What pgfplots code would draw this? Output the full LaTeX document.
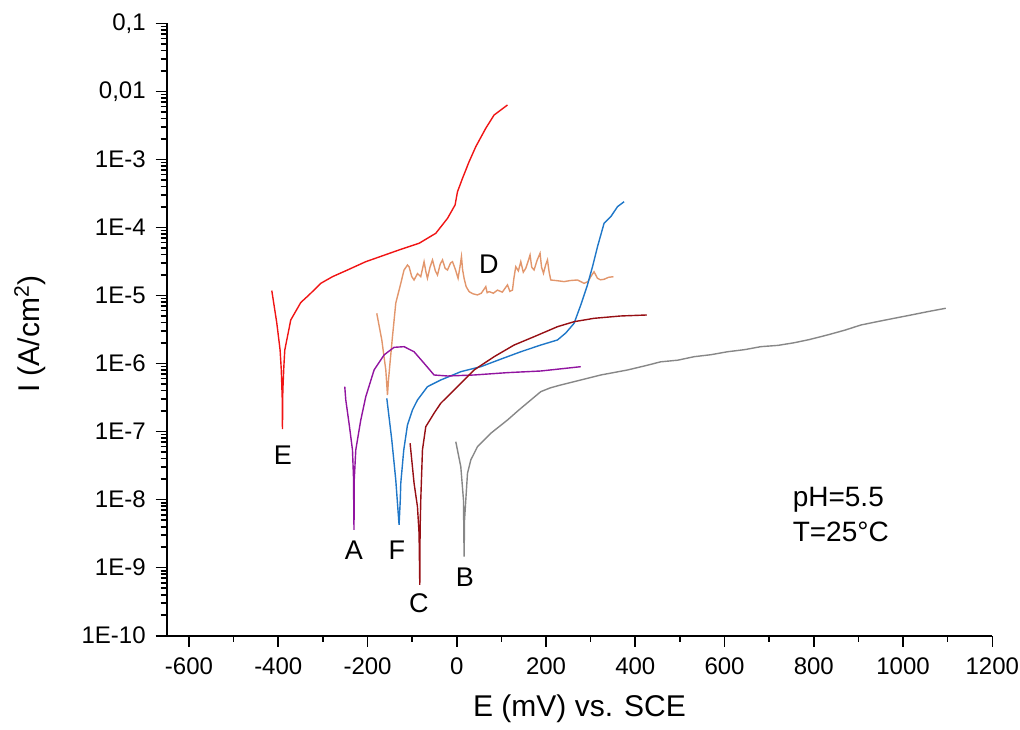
\documentclass[border=0pt]{standalone}
\usepackage{pgfplots}
\pgfplotsset{compat=1.18}
\usepackage{fontspec}
\setmainfont{Liberation Sans}
\definecolor{cE}{RGB}{240,20,20}
\definecolor{cD}{RGB}{226,150,108}
\definecolor{cF}{RGB}{31,119,200}
\definecolor{cA}{RGB}{145,20,160}
\definecolor{cC}{RGB}{150,15,20}
\definecolor{cB}{RGB}{135,135,135}

\begin{document}
\begin{tikzpicture}
\useasboundingbox (-83.35pt,-46.65pt) rectangle (426.65pt,317.85pt);
\begin{axis}[
  at={(0,0)}, anchor=south west,
  scale only axis, width=412.8pt, height=306.2pt,
  ymode=log,
  xmin=-650, xmax=1200, ymin=1e-10, ymax=0.1,
  axis x line*=bottom, axis y line*=left,
  axis line style={line width=0.9pt},
  xtick={-600,-400,...,1200}, minor x tick num=1,
  ytick={1e-10,1e-9,1e-8,1e-7,1e-6,1e-5,1e-4,1e-3,1e-2,1e-1},
  yticklabels={1E-10,1E-9,1E-8,1E-7,1E-6,1E-5,1E-4,1E-3,{0,01},{0,1}},
  tick align=outside,
  major tick length=5.5pt, minor tick length=3pt,
  tick style={black, line width=0.8pt},
  tick label style={font=\fontsize{12}{14}\selectfont},
  yticklabel style={xshift=-1.5pt},
  xticklabel shift={2pt},
  /pgf/number format/assume math mode=true,
  /pgf/number format/set thousands separator={},
  xlabel={E (mV) vs. SCE},
  ylabel={I (A/cm\textsuperscript{2})},
  label style={font=\fontsize{15}{18}\selectfont},
  xlabel style={at={(axis description cs:0.5,-0.119)}, anchor=center},
  ylabel style={at={(axis description cs:-0.1656,0.4927)}, anchor=center},
  every axis plot/.append style={line width=0.7pt},
  clip=false,
]
% E
\addplot[cE] coordinates {(-414.5,1.18e-5)(-403.3,3.94e-6)(-395.9,1.58e-6)(-393.2,8.0e-7)(-391,2.9e-7)(-390.6,1.09e-7)(-389.8,4.0e-7)(-388.2,7.0e-7)(-387.5,9.0e-7)(-385.4,1.58e-6)(-372,4.37e-6)(-349.5,7.9e-6)(-331,1.02e-5)(-304.7,1.51e-5)(-278.5,1.89e-5)(-244.9,2.37e-5)(-203.9,3.14e-5)(-129.3,4.67e-5)(-84.5,5.85e-5)(-47.1,8.2e-5)(-20.8,1.36e-4)(-3.8,2.14e-4)(1.6,3.35e-4)(12.8,5.27e-4)(27.6,9.25e-4)(42.6,1.54e-3)(65,2.87e-3)(83.6,4.49e-3)(113.6,6.3e-3)};
% D
\addplot[cD] coordinates {(-179.3,5.47e-6)(-168,2.22e-6)(-159,8.0e-7)(-155.3,3.45e-7)(-153,5.73e-7)(-149,1.13e-6)(-144.1,2.48e-6)(-136.7,7.7e-6)(-125.5,1.51e-5)(-118.1,2.37e-5)(-110.5,2.81e-5)(-106.9,2.65e-5)(-101,1.9e-5)(-95.7,1.69e-5)(-88,2.1e-5)(-80.7,1.89e-5)(-73.3,3.14e-5)(-69,2.2e-5)(-65.7,1.79e-5)(-60,2.6e-5)(-54.4,3.33e-5)(-48,2.3e-5)(-43.2,2.0e-5)(-37,2.9e-5)(-32,3.33e-5)(-26,2.5e-5)(-20.8,2.37e-5)(-14,3.0e-5)(-9.6,3.14e-5)(-3,2.4e-5)(2.9,1.79e-5)(7,2.6e-5)(10.5,3.72e-5)(13,2.4e-5)(16.4,1.79e-5)(21,1.35e-5)(27.6,1.14e-5)(36,1.06e-5)(46.4,1.02e-5)(55,1.08e-5)(65,1.35e-5)(68,1.1e-5)(72.4,1.14e-5)(82,1.08e-5)(91.2,1.20e-5)(102,1.12e-5)(113.6,1.43e-5)(119,1.15e-5)(124.8,1.20e-5)(128,1.8e-5)(132.2,2.65e-5)(138,2.3e-5)(143.4,3.14e-5)(149,2.2e-5)(154.6,2.51e-5)(160,3.2e-5)(164.2,3.94e-5)(168,2.6e-5)(173.2,2.37e-5)(180,3.3e-5)(186.6,4.17e-5)(190,2.6e-5)(194.3,2.12e-5)(199,2.8e-5)(203.2,3.33e-5)(207,2.2e-5)(210.6,1.69e-5)(225,1.65e-5)(240.4,1.60e-5)(255,1.66e-5)(270.4,1.69e-5)(285.2,1.51e-5)(294,1.6e-5)(300.2,1.89e-5)(307.6,2.23e-5)(315.3,1.79e-5)(322,1.7e-5)(330,1.73e-5)(340,1.85e-5)(351.1,1.89e-5)};
% F
\addplot[cF] coordinates {(-156.8,3.08e-7)(-145.6,7.5e-8)(-136.7,1.94e-8)(-129.3,4.25e-9)(-126.6,9.9e-9)(-125.5,1.74e-8)(-118.8,5.37e-8)(-110.5,1.25e-7)(-99.3,2.08e-7)(-88.1,2.91e-7)(-65.7,4.57e-7)(-35.9,5.73e-7)(9,7.59e-7)(53.8,8.99e-7)(98.6,1.16e-6)(143.4,1.49e-6)(188.2,1.87e-6)(225.6,2.22e-6)(244.2,2.81e-6)(262.8,3.90e-6)(277.8,7.24e-6)(292.8,1.43e-5)(304.1,2.65e-5)(315.3,5.21e-5)(330,1.15e-4)(345.1,1.44e-4)(360.1,2.02e-4)(374.9,2.39e-4)};
% A
\addplot[cA] coordinates {(-251,4.57e-7)(-248.7,2.91e-7)(-240.9,1.25e-7)(-233.7,5.37e-8)(-231.5,2.17e-8)(-230.3,3.58e-9)(-229.8,1.94e-8)(-226.3,5.37e-8)(-215.1,1.48e-7)(-203.9,3.26e-7)(-185.3,8.04e-7)(-162.9,1.34e-6)(-140.5,1.73e-6)(-118.1,1.77e-6)(-95.7,1.49e-6)(-73.3,1.01e-6)(-50.9,6.79e-7)(-20.8,6.56e-7)(38.8,6.79e-7)(113.6,7.35e-7)(188.2,7.77e-7)(277.8,8.99e-7)};
% C
\addplot[cC] coordinates {(-104.6,6.73e-8)(-95.7,1.74e-8)(-88.1,7.87e-9)(-84.5,3.20e-9)(-82.9,5.57e-10)(-82.2,3.58e-9)(-80.7,9.88e-9)(-76.9,5.37e-8)(-69.5,1.18e-7)(-50.9,1.86e-7)(-35.9,2.61e-7)(-6,4.09e-7)(38.8,8.04e-7)(83.6,1.26e-6)(128.4,1.87e-6)(173.2,2.48e-6)(225.6,3.48e-6)(262.8,4.12e-6)(307.6,4.62e-6)(367.5,5.0e-6)(425.7,5.17e-6)};
% B
\addplot[cB] coordinates {(-2.2,7.1e-8)(9,3.05e-8)(15,9.9e-9)(16.4,1.45e-9)(17.4,5.02e-9)(20.2,9.9e-9)(24,2.44e-8)(31.4,3.83e-8)(46.4,6.0e-8)(76.2,9.44e-8)(113.6,1.48e-7)(140,2.1e-7)(165.8,2.91e-7)(188.2,3.86e-7)(210,4.4e-7)(233,4.84e-7)(277.8,5.73e-7)(322.7,6.79e-7)(382.5,8.04e-7)(420,9.2e-7)(457.1,1.06e-6)(495,1.12e-6)(531.7,1.26e-6)(570,1.35e-6)(606.5,1.49e-6)(645,1.6e-6)(681.2,1.77e-6)(720,1.85e-6)(755.8,2.02e-6)(790,2.25e-6)(830.6,2.63e-6)(870,3.1e-6)(905.2,3.68e-6)(940,4.1e-6)(979.8,4.62e-6)(1020,5.2e-6)(1054.7,5.78e-6)(1095.7,6.49e-6)};

\begin{scope}[font=\fontsize{13.5}{16}\selectfont]
\node at (axis cs:-389.9,4.53e-8) {E};
\node at (axis cs:-230.8,1.82e-9) {A};
\node at (axis cs:-134.4,1.82e-9) {F};
\node at (axis cs:-85.1,3.03e-10) {C};
\node at (axis cs:17.9,7.3e-10) {B};
\node at (axis cs:71.7,2.9e-5) {D};
\end{scope}
\node[anchor=west, align=left, inner sep=0pt, font=\fontsize{14}{17.2}\selectfont] at (axis cs:752,6.05e-9) {pH=5.5\\T=25\textdegree C};
\end{axis}
\end{tikzpicture}
\end{document}
